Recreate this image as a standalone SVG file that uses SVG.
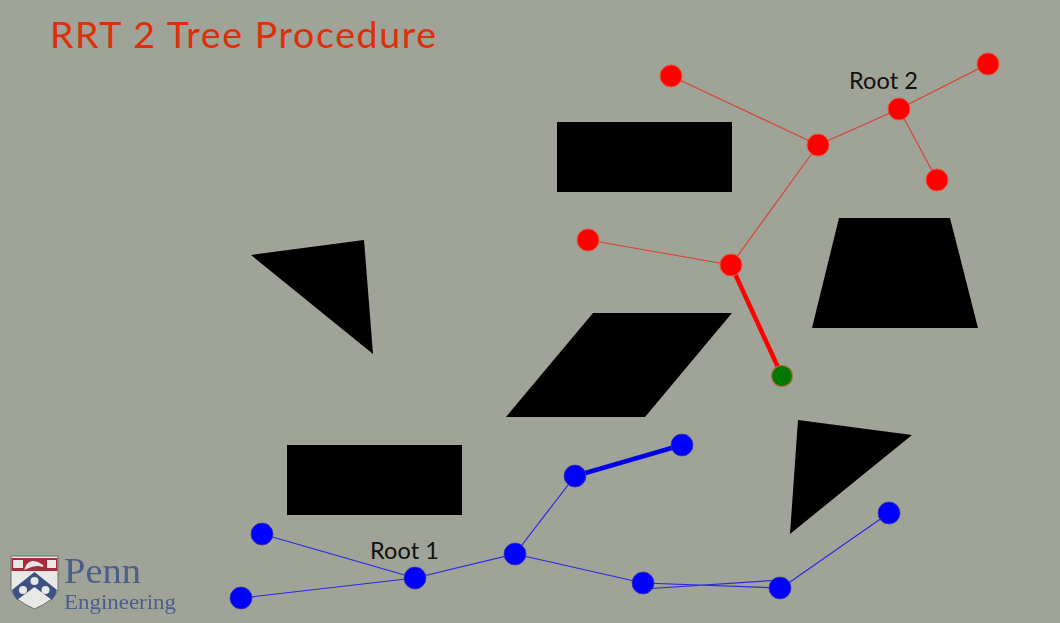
<svg xmlns="http://www.w3.org/2000/svg" width="1060" height="623" viewBox="0 0 1060 623">
<defs><filter id="soft" x="-5%" y="-5%" width="110%" height="110%"><feGaussianBlur stdDeviation="0.5"/></filter></defs>
<style>
.ob{fill:#000}
.r{fill:#fe0000;stroke:#e8553a;stroke-width:1}
.b{fill:#0000fe;stroke:#3a3aa0;stroke-width:.8}
.lr{stroke:#d8432c;stroke-width:1.1;fill:none}
.lb{stroke:#2a2ae0;stroke-width:1.2;fill:none}
.t{font-family:"Lato","Liberation Sans",sans-serif;font-size:23.5px;fill:#111}
.p{font-family:"Liberation Serif",serif;fill:#4b6089}
</style>
<rect width="1060" height="623" fill="#a0a398"/>
<text x="50" y="48" font-family="Lato,'Liberation Sans',sans-serif" font-size="37.5" fill="#dd2f0a" textLength="386" lengthAdjust="spacing">RRT 2 Tree Procedure</text>
<g id="obstacles">
<rect class="ob" x="557" y="122" width="175" height="70"/>
<polygon class="ob" points="251,255 364,240 373,354"/>
<polygon class="ob" points="839,218 950,218 978,328 812,328"/>
<polygon class="ob" points="593,313 732,313 645,417 506,417"/>
<rect class="ob" x="287" y="445" width="175" height="70"/>
<polygon class="ob" points="798,420 912,435 790,534"/>
</g>
<g id="connectors">
<path class="lr" d="M671 76L818 145M818 145L899 109M899 109L988 64M899 109L937 180M818 145L731 265M588 240L731 265"/>
<path d="M731 265L782 376" stroke="#fe0000" stroke-width="4.5" fill="none"/>
<path class="lb" d="M262 534L415 578M241 598L415 578M415 578L515 554M515 554L575 476M515 554L643 583M643 583L780 588M643 589L780 580M780 589L889 513"/>
<path d="M575 476L682 445" stroke="#0000e6" stroke-width="4.5" fill="none"/>
</g>
<g id="node-r1"><circle class="r" cx="671" cy="76" r="11"/></g>
<g id="node-r2"><circle class="r" cx="818" cy="145" r="11"/></g>
<g id="node-root2"><circle class="r" cx="899" cy="109" r="11"/></g>
<g id="node-r4"><circle class="r" cx="988" cy="64" r="11"/></g>
<g id="node-r5"><circle class="r" cx="937" cy="180" r="11"/></g>
<g id="node-r6"><circle class="r" cx="731" cy="265" r="11"/></g>
<g id="node-r7"><circle class="r" cx="588" cy="240" r="11"/></g>
<g id="node-g"><circle cx="782" cy="376" r="10.5" fill="#047804" stroke="#b86a3a" stroke-width="1.2"/></g>
<g id="node-b1"><circle class="b" cx="262" cy="534" r="11"/></g>
<g id="node-b2"><circle class="b" cx="241" cy="598" r="11"/></g>
<g id="node-root1"><circle class="b" cx="415" cy="578" r="11"/></g>
<g id="node-b4"><circle class="b" cx="515" cy="554" r="11"/></g>
<g id="node-b5"><circle class="b" cx="575" cy="476" r="11"/></g>
<g id="node-b6"><circle class="b" cx="682" cy="445" r="11"/></g>
<g id="node-b7"><circle class="b" cx="643" cy="583" r="11"/></g>
<g id="node-b8"><circle class="b" cx="780" cy="588" r="11"/></g>
<g id="node-b9"><circle class="b" cx="889" cy="513" r="11"/></g>
<text class="t" x="849" y="89" textLength="69" lengthAdjust="spacing">Root 2</text>
<text class="t" x="370" y="559" textLength="69" lengthAdjust="spacing">Root 1</text>
<g id="logo" filter="url(#soft)">
<path d="M11 556H58V590Q55 600 34.500 609Q14 600 11 590Z" fill="#e8e8e4" stroke="#6d6d6d" stroke-width="1"/>
<rect x="11.500" y="558" width="46" height="13" fill="#a8293c"/>
<rect x="13" y="560" width="10" height="8" fill="#e8e8e4"/>
<rect x="47" y="560" width="9" height="8" fill="#e8e8e4"/>
<path d="M26 568Q30 557 43 566Q36 563 26 568Z" fill="#e8e8e4" stroke="#e8e8e4" stroke-width="2"/>
<path d="M34.500 572L12 590Q13 595 17 600L34.500 587L52 600Q56 595 57 590Z" fill="#3c5182"/>
<circle cx="34.500" cy="581" r="4" fill="#e8e8e4"/>
<circle cx="23" cy="590" r="4" fill="#e8e8e4"/>
<circle cx="45.500" cy="590" r="4" fill="#e8e8e4"/>
<text class="p" x="64" y="583" font-size="36" textLength="77" lengthAdjust="spacingAndGlyphs">Penn</text>
<text class="p" x="64" y="609" font-size="21" textLength="112" lengthAdjust="spacingAndGlyphs">Engineering</text>
</g>
</svg>
